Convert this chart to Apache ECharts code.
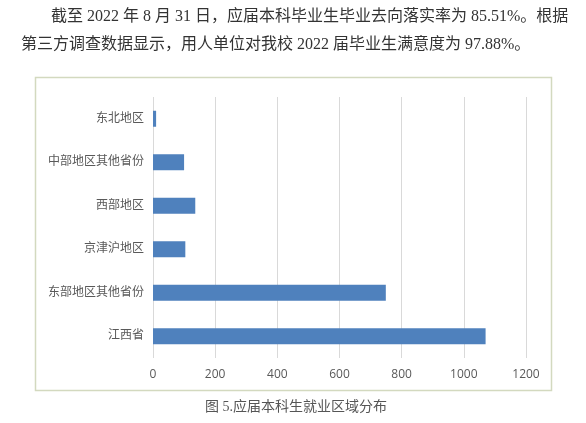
<!DOCTYPE html>
<html>
<head>
<meta charset="utf-8">
<script src="https://cdn.jsdelivr.net/npm/echarts@6/dist/echarts.min.js"></script>
<style>
html,body{margin:0;padding:0;background:#fff;}
#c{width:586px;height:423px;}
</style>
</head>
<body>
<div id="c"></div>
<script>
// Data (bottom to top in ECharts category order)
const categories = ['江西省', '东部地区其他省份', '京津沪地区', '西部地区', '中部地区其他省份', '东北地区'];
const values = [1070, 749, 104, 136, 100, 10];
const xTicks = [0, 200, 400, 600, 800, 1000, 1200];
const paraLine1 = '截至 2022 年 8 月 31 日，应届本科毕业生毕业去向落实率为 85.51%。根据';
const paraLine2 = '第三方调查数据显示，用人单位对我校 2022 届毕业生满意度为 97.88%。';
const caption = '图 5.应届本科生就业区域分布';

const chart = echarts.init(document.getElementById('c'));
const serifMix = '"Liberation Serif", "Noto Sans CJK SC", serif';
chart.setOption({
  backgroundColor: '#ffffff',
  animation: false,
  grid: { left: 153, right: 60, top: 97, bottom: 65, containLabel: false },
  xAxis: {
    type: 'value',
    min: xTicks[0],
    max: xTicks[xTicks.length - 1],
    interval: 200,
    axisLine: { show: false },
    axisTick: { show: false },
    axisLabel: { color: '#595959', fontSize: 12, margin: 11, fontFamily: '"Open Sans", "Noto Sans", sans-serif', formatter: v => String(v) },
    splitLine: { show: true, lineStyle: { color: '#d9d9d9', width: 1 } }
  },
  yAxis: {
    type: 'category',
    data: categories,
    axisLine: { show: false },
    axisTick: { show: false },
    axisLabel: { color: '#595959', fontSize: 12, margin: 9, fontFamily: serifMix },
    splitLine: { show: false }
  },
  series: [{
    type: 'bar',
    data: values,
    barWidth: 16,
    itemStyle: { color: '#4f81bd' }
  }],
  graphic: [
    {
      type: 'rect', z: -1,
      shape: { x: 35.5, y: 77.5, width: 516, height: 313 },
      style: { fill: 'none', stroke: '#d3d9bf', lineWidth: 1.5 }
    },
    {
      type: 'text', left: 51, top: 9,
      style: { text: paraLine1, fill: '#333333', font: '16px ' + serifMix }
    },
    {
      type: 'text', left: 21, top: 37,
      style: { text: paraLine2, fill: '#333333', font: '16px ' + serifMix }
    },
    {
      type: 'text', left: 205, top: 400,
      style: { text: caption, fill: '#555555', font: '14px ' + serifMix }
    }
  ]
});
</script>
</body>
</html>
